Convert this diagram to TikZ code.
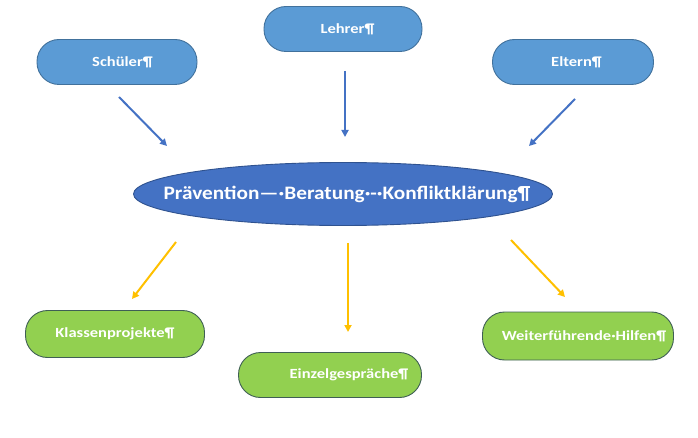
\documentclass[tikz,border=0pt]{standalone}
\usepackage{fontspec}
\usepackage{graphicx}
\setmainfont{Carlito}
\usetikzlibrary{shapes.geometric,arrows.meta}
\definecolor{topfill}{HTML}{5B9BD5}
\definecolor{topline}{HTML}{41719C}
\definecolor{midfill}{HTML}{4472C4}
\definecolor{midline}{HTML}{2F528F}
\definecolor{botfill}{HTML}{92D050}
\definecolor{botline}{HTML}{3F5F55}
\definecolor{bluearrow}{HTML}{4472C4}
\definecolor{yellowarrow}{HTML}{FFC000}
\newcommand{\pilltext}[2]{\hspace*{#1}\scalebox{1.18}[1]{#2}}
\newcommand{\midtext}[1]{\makebox[0pt]{\hspace*{8pt}\scalebox{1.12}[1]{#1}}}
\tikzset{
  pill/.style={rectangle, rounded corners=22pt, line width=0.9pt, inner sep=0pt,
    minimum height=45pt, text=white, font=\bfseries\fontsize{14}{16}\selectfont},
  topbox/.style={pill, fill=topfill, draw=topline},
  botbox/.style={pill, fill=botfill, draw=botline},
  midbox/.style={ellipse, fill=midfill, draw=midline, line width=0.9pt, inner sep=0pt,
    minimum width=419pt, minimum height=63pt, text=white, font=\bfseries\fontsize{19}{22}\selectfont},
  bluearr/.style={draw=bluearrow, line width=2pt, -{Triangle[length=7pt,width=7pt]}},
  yelarr/.style={draw=yellowarrow, line width=2pt, -{Triangle[length=7pt,width=7pt]}}
}
\begin{document}
\begin{tikzpicture}[x=1pt,y=-1pt]
\useasboundingbox (0,0) rectangle (698,438);
\node[topbox, minimum width=160pt] (schueler) at (117,62) {\pilltext{11pt}{Schüler¶}};
\node[topbox, minimum width=158pt] (lehrer) at (343,29) {\pilltext{9pt}{Lehrer¶}};
\node[topbox, minimum width=161pt] (eltern) at (573,62) {\pilltext{7pt}{Eltern¶}};
\node[midbox] (center) at (343,194) {\midtext{Prävention—·Beratung·-·Konfliktklärung¶}};
\node[botbox, minimum width=179pt, minimum height=47pt] (klassen) at (115,334) {\pilltext{0pt}{Klassenprojekte¶}};
\node[botbox, minimum width=183pt] (einzel) at (330,375) {\pilltext{38pt}{Einzelgespräche¶}};
\node[botbox, minimum width=191pt, minimum height=48pt] (weiter) at (578,336) {\pilltext{12pt}{Weiterführende·Hilfen¶}};
\coordinate (s1) at (119,97);  \coordinate (s2) at (167,146);
\coordinate (l1) at (345,71);  \coordinate (l2) at (345,137);
\coordinate (e1) at (575,99);  \coordinate (e2) at (529,146);
\coordinate (k1) at (176,242); \coordinate (k2) at (132,299);
\coordinate (z1) at (348,243); \coordinate (z2) at (348,332);
\coordinate (w1) at (511,240); \coordinate (w2) at (565,297);
\draw[bluearr] (s1) -- (s2);
\draw[bluearr] (l1) -- (l2);
\draw[bluearr] (e1) -- (e2);
\draw[yelarr] (k1) -- (k2);
\draw[yelarr] (z1) -- (z2);
\draw[yelarr] (w1) -- (w2);
\end{tikzpicture}
\end{document}
